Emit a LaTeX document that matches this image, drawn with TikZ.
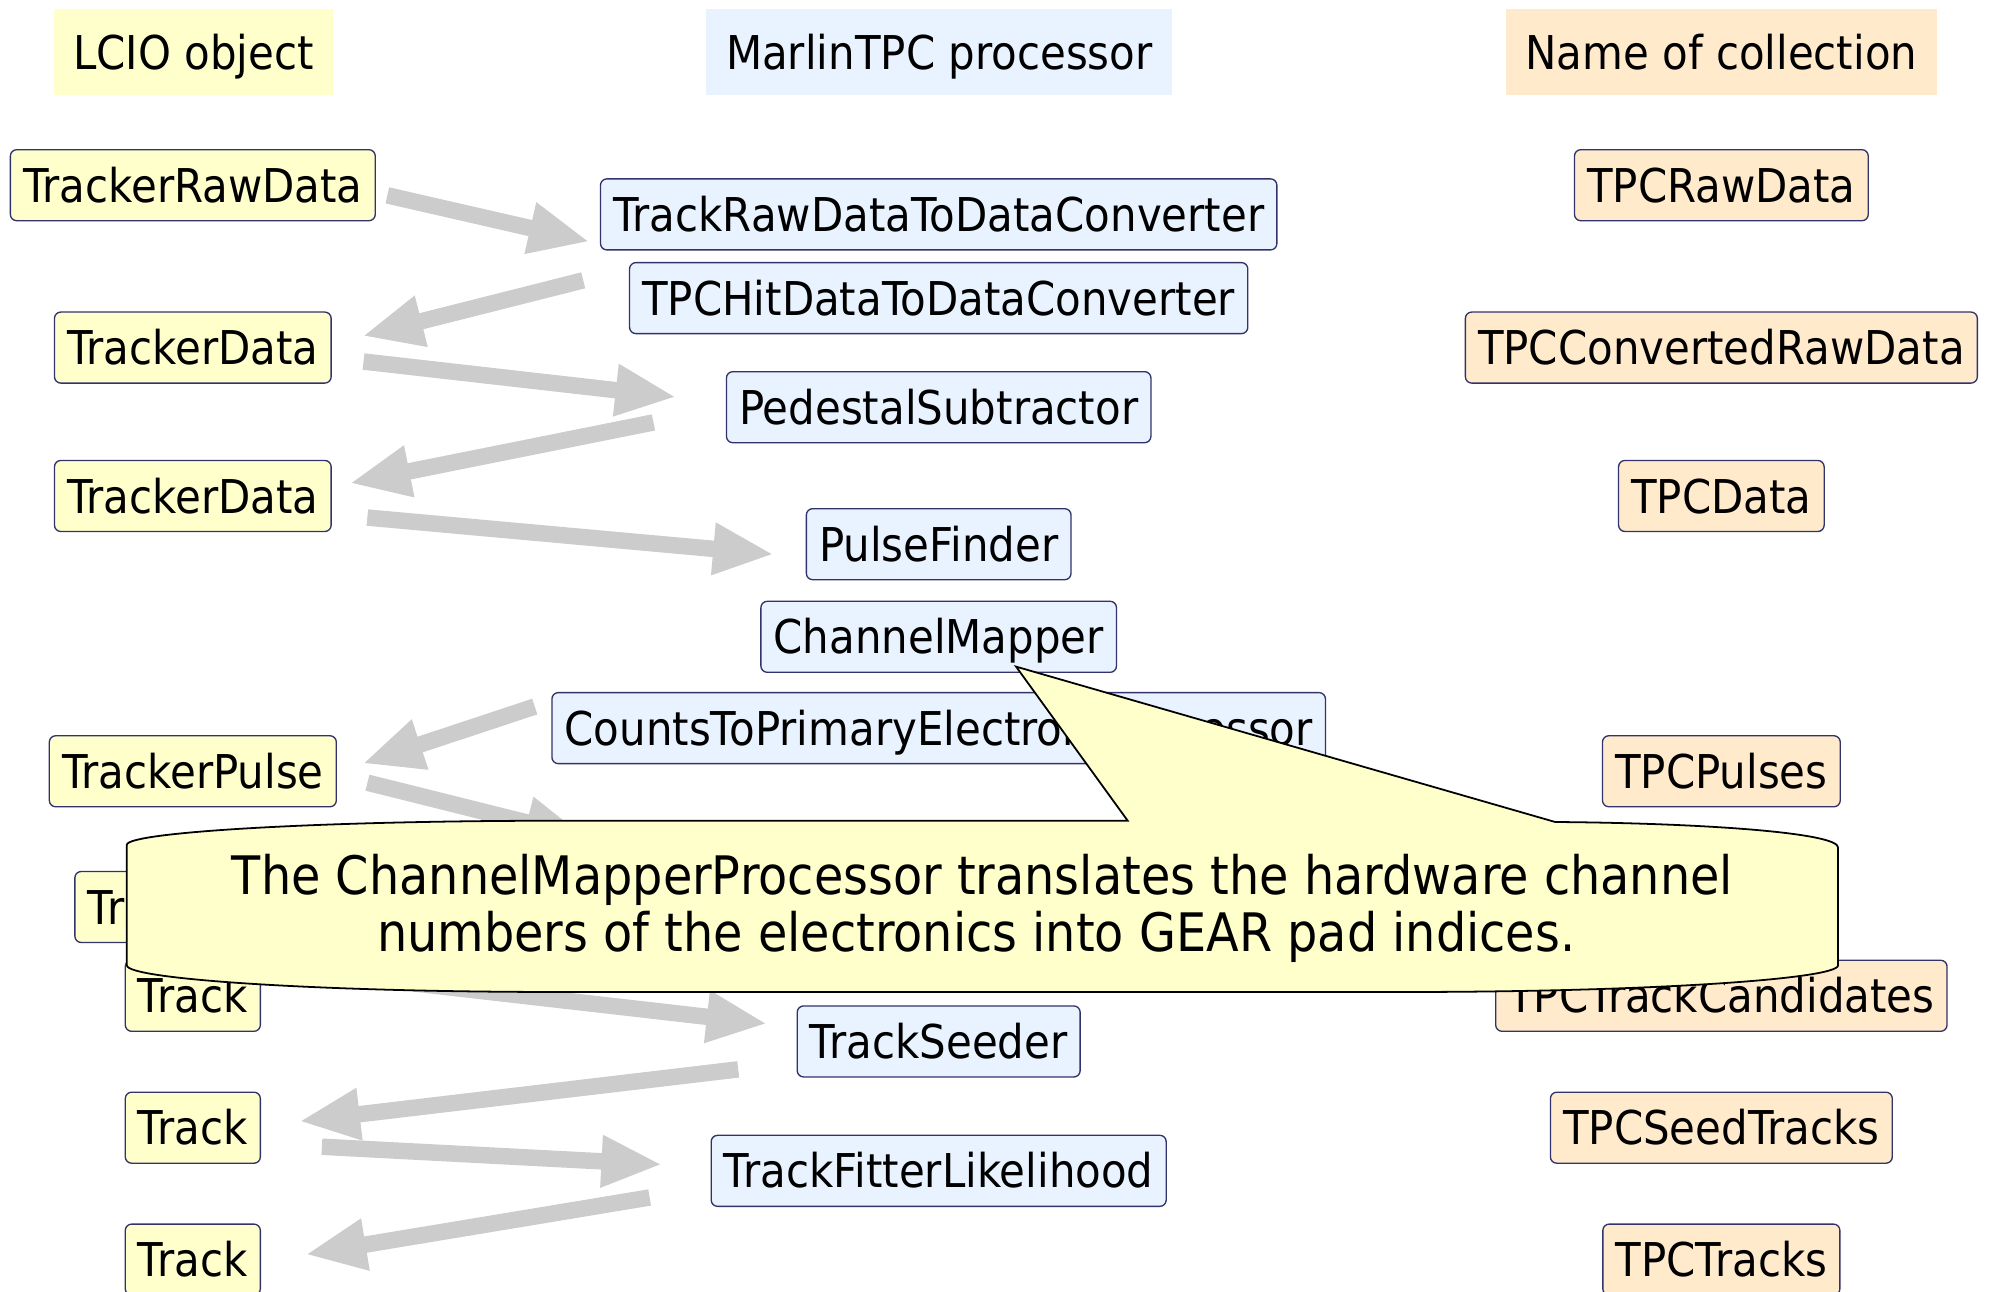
\documentclass[tikz,border=0pt]{standalone}
\usepackage{fontspec}
\setmainfont{DejaVu Sans}[FakeStretch=0.9]
\usetikzlibrary{arrows.meta,calc}
\definecolor{lcioyellow}{HTML}{FFFFCC}
\definecolor{procblue}{HTML}{E8F3FF}
\definecolor{collorange}{HTML}{FFEACC}
\definecolor{boxline}{HTML}{33336B}
\definecolor{flowgray}{HTML}{CCCCCC}
\begin{document}
\begin{tikzpicture}[x=0.02cm,y=-0.02cm,
	every node/.style={font=\fontsize{20.9}{25}\selectfont,text height=0.54cm,text depth=0cm},
	header/.style={minimum height=1.36cm,inner xsep=0.31cm,inner ysep=0pt},
	databox/.style={draw=boxline,line width=0.6pt,rounded corners=0.1cm,minimum height=1.12cm,inner xsep=0.2cm,inner ysep=0pt},
	lcio/.style={databox,fill=lcioyellow},
	proc/.style={databox,fill=procblue},
	coll/.style={databox,fill=collorange},
	flow/.style={draw=flowgray,line width=0.26cm,-{Triangle[length=0.96cm,width=0.76cm]}},
	callout/.style={draw=black,line width=0.8pt,fill=lcioyellow},
	callouttext/.style={font=\fontsize{23.8}{28}\selectfont,text height=,text depth=,inner sep=0pt}]
	\useasboundingbox (0,0) rectangle (1568,1018);

	% column headers
	\node[header,fill=lcioyellow] (lciohead) at (152.5,41) {LCIO object};
	\node[header,fill=procblue] (prochead) at (740.5,41) {MarlinTPC processor};
	\node[header,fill=collorange] (collhead) at (1357,41) {Name of collection};

	% LCIO objects
	\node[lcio] (rawdata) at (152,146) {TrackerRawData};
	\node[lcio] (tdata1) at (152,274) {TrackerData};
	\node[lcio] (tdata2) at (152,391) {TrackerData};
	\node[lcio] (tpulse) at (152,608) {TrackerPulse};
	\node[lcio,text width=3.32cm,align=left] (thit) at (152,715) {Tr};
	\node[lcio] (track1) at (152,785) {Track};
	\node[lcio] (track2) at (152,889) {Track};
	\node[lcio] (track3) at (152,993) {Track};

	% processors
	\node[proc] (rawconv) at (740,169) {TrackRawDataToDataConverter};
	\node[proc] (hitconv) at (740,235) {TPCHitDataToDataConverter};
	\node[proc] (pedsub) at (740,321) {PedestalSubtractor};
	\node[proc] (pulsefind) at (740,429) {PulseFinder};
	\node[proc] (chmap) at (740,502) {ChannelMapper};
	\node[proc] (counts) at (740,574) {CountsToPrimaryElectronsProcessor};
	\node[proc] (seeder) at (740,821) {TrackSeeder};
	\node[proc] (fitter) at (740,923) {TrackFitterLikelihood};

	% collections
	\node[coll] (tpcraw) at (1357,146) {TPCRawData};
	\node[coll] (tpcconv) at (1357,274) {TPCConvertedRawData};
	\node[coll] (tpcdata) at (1357,391) {TPCData};
	\node[coll] (tpcpulses) at (1357,608) {TPCPulses};
	\node[coll] (tpccand) at (1357,785) {TPCTrackCandidates};
	\node[coll] (tpcseed) at (1357,889) {TPCSeedTracks};
	\node[coll] (tpctracks) at (1357,993) {TPCTracks};

	% data flow
	\coordinate (hitend) at (462,660);
	\draw[flow] ($(rawdata.east)+(9,8)$) -- ($(rawconv.south west)+(-8,-7)$);
	\draw[flow] ($(hitconv.west)+(-36,-14)$) -- ($(tdata1.east)+(24,-9)$);
	\draw[flow] ($(tdata1.east)+(25,11)$) -- ($(pedsub.west)+(-39,-8)$);
	\draw[flow] ($(pedsub.west)+(-57,12)$) -- ($(tdata2.east)+(14,-10)$);
	\draw[flow] ($(tdata2.east)+(28,17)$) -- ($(pulsefind.west)+(-25,8)$);
	\draw[flow] ($(counts.west)+(-13,-17)$) -- ($(tpulse.east)+(20,-6)$);
	\draw[flow] ($(tpulse.east)+(24,9)$) -- (hitend);
	\draw[flow] ($(track1.east)+(110,-11)$) -- ($(seeder.west)+(-23,-14)$);
	\draw[flow] ($(seeder.west)+(-46,22)$) -- ($(track2.east)+(30,-5)$);
	\draw[flow] ($(track2.east)+(48,15)$) -- ($(fitter.west)+(-38,-5)$);
	\draw[flow] ($(fitter.west)+(-48,21)$) -- ($(track3.east)+(35,-4)$);

	% callout
	\draw[callout] (100,761) -- (100,666) .. controls (100,656) and (252,647) .. (440,647) -- (889,647)
		-- ($(chmap.south)+(61,-5)$) -- (1226,648) .. controls (1350,649) and (1449,657) .. (1449,668)
		-- (1449,761) .. controls (1449,772) and (1297,782) .. (1109,782) -- (440,782)
		.. controls (252,782) and (100,772) .. (100,761) -- cycle;
	\node[callouttext,anchor=base] (note1) at (774.5,705) {The ChannelMapperProcessor translates the hardware channel};
	\node[callouttext,anchor=base] (note2) at (769.5,750) {numbers of the electronics into GEAR pad indices.};
\end{tikzpicture}
\end{document}
